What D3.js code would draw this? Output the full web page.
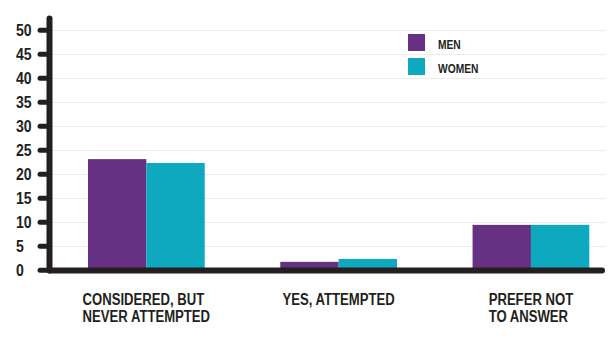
<!DOCTYPE html>
<html>
<head>
<meta charset="utf-8">
<script src="https://cdn.jsdelivr.net/npm/d3@7"></script>
<style>
  html, body { margin: 0; padding: 0; background: #fff; }
  svg { display: block; }
  text { font-family: "Liberation Sans", Arial, sans-serif; font-weight: bold; fill: #231f20; }
</style>
</head>
<body>
<svg id="chart" width="610" height="338"></svg>
<script>
// Survey answers by gender (percent)
const categories = [["CONSIDERED, BUT", "NEVER ATTEMPTED"], ["YES, ATTEMPTED"], ["PREFER NOT", "TO ANSWER"]];
const seriesNames = ["MEN", "WOMEN"];
const men = [23.1, 1.7, 9.4];
const women = [22.3, 2.3, 9.4];
const yTicks = [0, 5, 10, 15, 20, 25, 30, 35, 40, 45, 50];

const colors = { MEN: "#663183", WOMEN: "#0fa9bf" };
const ink = "#231f20";
const narrow = 0.82; // horizontal squeeze for a condensed look

const svg = d3.select("#chart");
const axisX = 49.5, axisY = 270.5;

const y = d3.scaleLinear().domain([0, 50]).range([270, 30]);
const keys = categories.map((c, i) => i);
const x0 = d3.scaleBand().domain(keys).range([88, 589.3]).paddingInner(0.393).paddingOuter(0);
const x1 = d3.scaleBand().domain(seriesNames).range([0, x0.bandwidth()]).padding(0);

// gridlines
svg.append("g")
  .selectAll("line")
  .data(yTicks.filter(d => d > 0))
  .join("line")
  .attr("x1", axisX + 3).attr("x2", 606)
  .attr("y1", d => Math.round(y(d)) + 0.5).attr("y2", d => Math.round(y(d)) + 0.5)
  .attr("stroke", "#ebebeb").attr("stroke-width", 1);

// bars
const rows = keys.map(i => ({ i, values: [{ k: "MEN", v: men[i] }, { k: "WOMEN", v: women[i] }] }));
svg.append("g")
  .selectAll("g")
  .data(rows)
  .join("g")
  .attr("transform", d => `translate(${x0(d.i)},0)`)
  .selectAll("rect")
  .data(d => d.values)
  .join("rect")
  .attr("x", d => x1(d.k))
  .attr("width", x1.bandwidth())
  .attr("y", d => y(d.v))
  .attr("height", d => y(0) - y(d.v))
  .attr("fill", d => colors[d.k]);

// y axis: thick rounded line with blob ticks
const yAxis = svg.append("g");
yAxis.selectAll("line.tick")
  .data(yTicks)
  .join("line")
  .attr("class", "tick")
  .attr("x1", 40).attr("x2", axisX)
  .attr("y1", d => y(d) + 0.3).attr("y2", d => y(d) + 0.3)
  .attr("stroke", ink).attr("stroke-width", 5).attr("stroke-linecap", "round");
yAxis.append("line")
  .attr("x1", axisX).attr("x2", axisX)
  .attr("y1", 18.5).attr("y2", axisY)
  .attr("stroke", ink).attr("stroke-width", 6).attr("stroke-linecap", "round");
yAxis.selectAll("text")
  .data(yTicks)
  .join("text")
  .attr("transform", d => `translate(16,${y(d) + 5.8}) scale(0.88,1)`)
  .attr("font-size", 16)
  .text(d => d);

// x axis
svg.append("line")
  .attr("x1", axisX).attr("x2", 602)
  .attr("y1", axisY).attr("y2", axisY)
  .attr("stroke", ink).attr("stroke-width", 6).attr("stroke-linecap", "round");

// category labels: left-aligned block centred under each group
const labels = svg.append("g");
categories.forEach((lines, i) => {
  const cx = x0(i) + x0.bandwidth() / 2;
  const g = labels.append("g");
  const texts = lines.map((s, j) =>
    g.append("text").attr("font-size", 16).attr("x", 0).attr("y", j * 17).text(s));
  const w = d3.max(texts, t => t.node().getComputedTextLength()) * narrow;
  g.attr("transform", `translate(${cx - w / 2},305) scale(${narrow},1)`);
});

// legend
const legend = svg.append("g").attr("transform", "translate(408,34)");
const li = legend.selectAll("g").data(seriesNames).join("g")
  .attr("transform", (d, i) => `translate(0,${i * 24})`);
li.append("rect").attr("width", 17).attr("height", 17).attr("fill", d => colors[d]);
li.append("text")
  .attr("transform", `translate(30,15) scale(${narrow},1)`)
  .attr("font-size", 12.5)
  .text(d => d);
</script>
</body>
</html>
